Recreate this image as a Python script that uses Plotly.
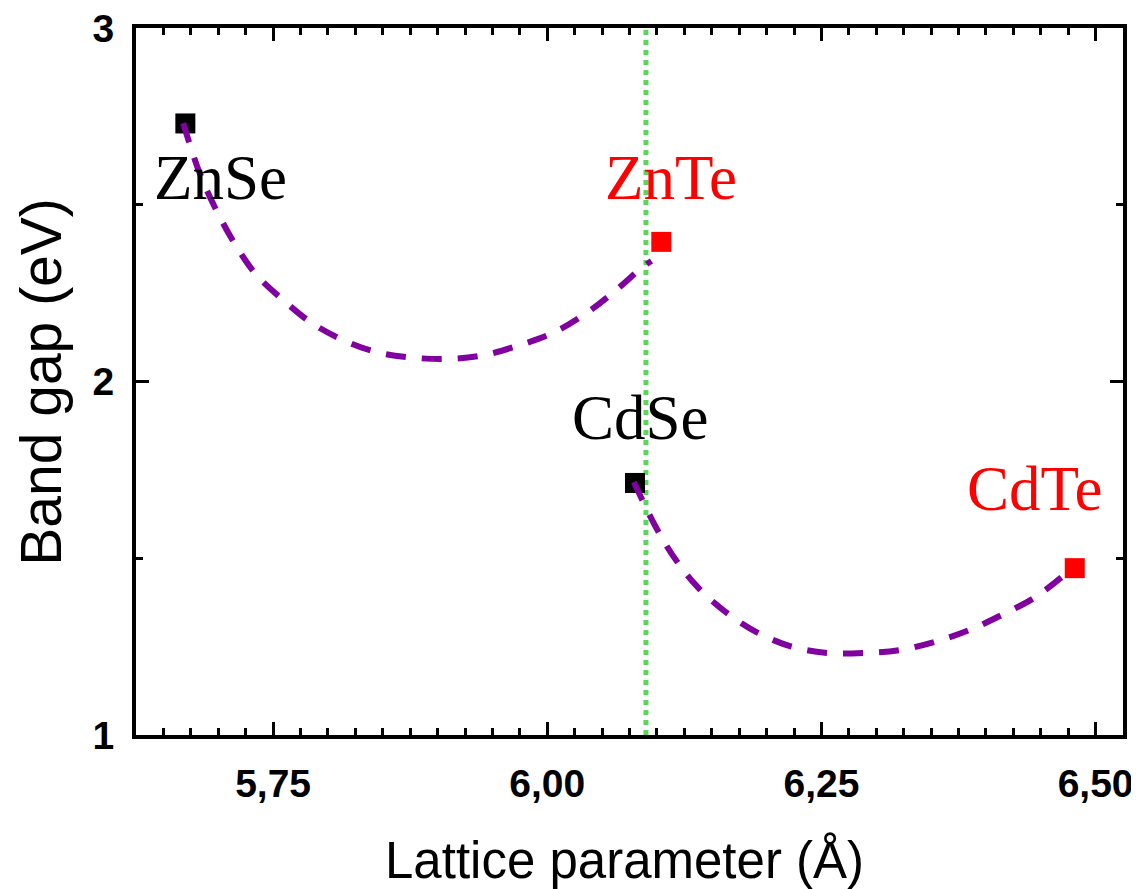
import plotly.graph_objects as go

# Compounds (lattice parameter in Å, band gap in eV)
compounds = ["ZnSe", "ZnTe", "CdSe", "CdTe"]
lattice = [5.670, 6.104, 6.080, 6.481]
gap = [2.73, 2.395, 1.713, 1.472]
point_colors = ["black", "red", "black", "red"]

# Label positions (text annotations)
label_x = [5.702, 6.113, 6.085, 6.445]
label_y = [2.575, 2.575, 1.897, 1.695]

# Bowing curve ZnSe -> ZnTe
curve1_x = [5.668, 5.683, 5.699, 5.717, 5.735, 5.759, 5.785, 5.814, 5.847, 5.879,
            5.911, 5.943, 5.975, 6.005, 6.036, 6.063, 6.087, 6.095]
curve1_y = [2.731, 2.590, 2.480, 2.380, 2.301, 2.231, 2.166, 2.117, 2.081, 2.067,
            2.064, 2.075, 2.103, 2.137, 2.194, 2.259, 2.324, 2.341]

# Bowing curve CdSe -> CdTe
curve2_x = [6.079, 6.098, 6.116, 6.137, 6.164, 6.192, 6.224, 6.256, 6.290, 6.321,
            6.353, 6.385, 6.414, 6.445, 6.478]
curve2_y = [1.716, 1.594, 1.501, 1.419, 1.345, 1.289, 1.249, 1.232, 1.232, 1.240,
            1.263, 1.297, 1.339, 1.390, 1.470]

# Vertical reference line
ref_x = [6.09, 6.09]
ref_y = [1.0, 3.0]

x_range = [5.625, 6.525]
y_range = [1.0, 3.0]

fig = go.Figure()

fig.add_trace(go.Scatter(x=ref_x, y=ref_y, mode="lines",
                         line=dict(color="#5fd35f", width=5, dash="5px,5px"),
                         showlegend=False, hoverinfo="skip"))

fig.add_trace(go.Scatter(x=lattice, y=gap, mode="markers",
                         marker=dict(symbol="square", size=20, color=point_colors,
                                     line=dict(width=0)),
                         showlegend=False))

for cx, cy in [(curve1_x, curve1_y), (curve2_x, curve2_y)]:
    fig.add_trace(go.Scatter(x=cx, y=cy, mode="lines",
                             line=dict(color="#8000A0", width=6, dash="20px,16px", shape="spline"),
                             showlegend=False, hoverinfo="skip"))

for name, lx, ly, col in zip(compounds, label_x, label_y, point_colors):
    fig.add_annotation(x=lx, y=ly, text=name, showarrow=False, xref="x", yref="y",
                       font=dict(family="Liberation Serif, Times New Roman, serif", size=63, color=col),
                       xanchor="center", yanchor="middle")

fig.add_annotation(x=0.4954, y=-0.177, xref="paper", yref="paper", text="Lattice parameter (Å)",
                   showarrow=False, xanchor="center", yanchor="middle",
                   font=dict(family="Liberation Sans, Arial, sans-serif", size=51, color="black"))
fig.add_annotation(x=-0.097, y=0.500, xref="paper", yref="paper", text="Band gap (eV)",
                   showarrow=False, xanchor="center", yanchor="middle", textangle=-90,
                   font=dict(family="Liberation Sans, Arial, sans-serif", size=57, color="black"))

tickfont = dict(family="Liberation Sans, Arial, sans-serif", size=39, color="black", weight="bold")

fig.update_xaxes(range=x_range, showline=True, linecolor="black", linewidth=4, mirror="allticks",
                 ticks="inside", ticklen=13, tickwidth=3, tickcolor="black",
                 tickmode="linear", tick0=5.75, dtick=0.25, tickformat=".2f",
                 minor=dict(ticks="inside", ticklen=7, tickwidth=3, tickcolor="black", dtick=0.025, tick0=5.75),
                 showgrid=False, zeroline=False, tickfont=tickfont, ticklabelstandoff=11,
                 ticklabeloverflow="allow", automargin=False)
fig.update_yaxes(range=y_range, showline=True, linecolor="black", linewidth=4, mirror="allticks",
                 ticks="inside", ticklen=13, tickwidth=3, tickcolor="black",
                 tickmode="linear", tick0=1, dtick=1,
                 minor=dict(ticks="inside", ticklen=7, tickwidth=3, tickcolor="black", dtick=0.5, tick0=1),
                 showgrid=False, zeroline=False, tickfont=tickfont, ticklabelstandoff=10,
                 ticklabeloverflow="allow", automargin=False)

fig.update_layout(width=1139, height=889,
                  margin=dict(l=128, r=24, t=20, b=162, autoexpand=False),
                  plot_bgcolor="white", paper_bgcolor="white", separators=",.", showlegend=False)

fig.write_html("out.html")
